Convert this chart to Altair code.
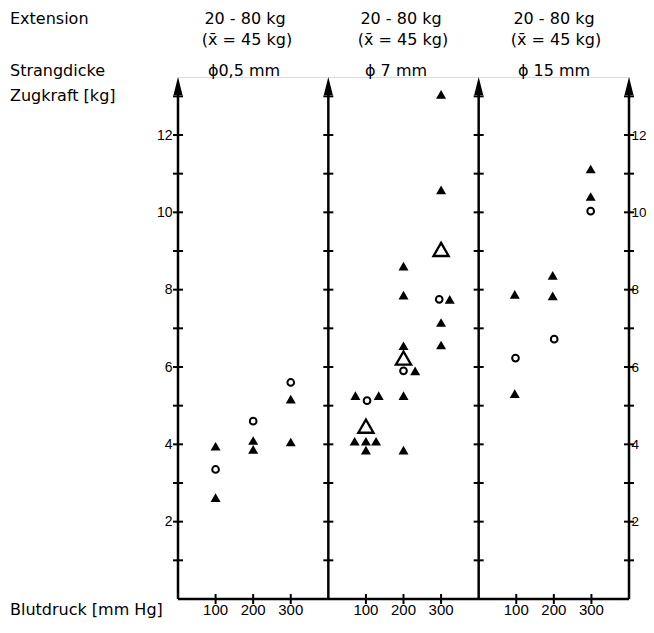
import altair as alt
import pandas as pd

# ---------------- data ----------------
# panel: 0 = ϕ0,5 mm, 1 = ϕ 7 mm, 2 = ϕ 15 mm
# art: "E" = single value (filled triangle), "K" = circle, "M" = mean (open triangle)
panel = [0, 0, 0, 0, 0, 0, 0, 0, 0,
         1, 1, 1, 1, 1, 1, 1, 1,
         1, 1, 1, 1, 1, 1, 1, 1,
         1, 1, 1, 1, 1, 1, 1,
         2, 2, 2, 2, 2, 2, 2, 2, 2]
blutdruck = [100, 100, 100, 200, 200, 200, 300, 300, 300,
             100, 100, 100, 100, 100, 100, 100, 100,
             200, 200, 200, 200, 200, 200, 200, 200,
             300, 300, 300, 300, 300, 300, 300,
             100, 100, 100, 200, 200, 200, 300, 300, 300]
# small sideways displacement used in the original to avoid overlapping symbols (mmHg units)
versatz = [0, 0, 0, 0, 0, 0, 0, 0, 0,
           -28, 3, 34, 0, -30, 0, 27, 0,
           0, 0, 0, 0, 0, 31, 0, 0,
           0, 0, 0, -5, 23, 0, 0,
           -4, -2, -4, -3, -3, 1, -2, -2, -2]
zugkraft = [3.95, 3.35, 2.62, 4.60, 4.10, 3.87, 5.60, 5.17, 4.06,
            5.26, 5.13, 5.26, 4.47, 4.08, 4.08, 4.08, 3.85,
            8.61, 7.86, 6.55, 6.23, 5.90, 5.90, 5.26, 3.85,
            13.05, 10.58, 9.04, 7.75, 7.75, 7.15, 6.57,
            7.88, 6.23, 5.31, 8.37, 7.84, 6.72, 11.12, 10.41, 10.03]
art = ["E", "K", "E", "K", "E", "E", "K", "E", "E",
       "E", "K", "E", "M", "E", "E", "E", "E",
       "E", "E", "E", "M", "K", "E", "E", "E",
       "E", "E", "M", "K", "E", "E", "E",
       "E", "K", "E", "E", "E", "K", "E", "E", "K"]

blutdruck_ticks = [100, 200, 300]
zugkraft_ticks = [1, 2, 3, 4, 5, 6, 7, 8, 9, 10, 11, 12, 13]
zugkraft_labels = [2, 4, 6, 8, 10, 12]
panel_breite = 400          # each panel spans 0..400 mmHg
n_panels = 3
y_max = 13.5

extension_texte = ["20 - 80 kg", "20 - 80 kg", "20 - 80 kg"]
mittel_texte = ["(x\u0304 = 45 kg)", "(x\u0304 = 45 kg)", "(x\u0304 = 45 kg)"]
strang_texte = ["\u03d50,5 mm", "\u03d5 7 mm", "\u03d5 15 mm"]

# ---------------- tables ----------------
df = pd.DataFrame({"panel": panel, "bp": blutdruck, "dx": versatz,
                   "kraft": zugkraft, "art": art})
df["x"] = df["panel"] * panel_breite + df["bp"] + df["dx"]

achsen_x = [i * panel_breite for i in range(n_panels + 1)]
achsen = pd.DataFrame({"x": achsen_x, "y0": 0.0, "ytop": y_max, "yline": y_max - 0.35})
ytick_df = pd.DataFrame([{"x": ax, "y": v} for ax in achsen_x for v in zugkraft_ticks])
xtick_vals = [p * panel_breite + t for p in range(n_panels) for t in blutdruck_ticks]
xtick_df = pd.DataFrame({"x": xtick_vals, "y": 0.0,
                         "lbl": [str(t) for p in range(n_panels) for t in blutdruck_ticks]})
base_df = pd.DataFrame({"x": [0], "x2": [n_panels * panel_breite], "y": [0.0]})

W, H = 451, 522
xs = alt.Scale(domain=[0, n_panels * panel_breite], nice=False, zero=False)
ys = alt.Scale(domain=[0, y_max], nice=False, zero=False)
FONT = "DejaVu Sans"
NUMFONT = "Liberation Sans"

# vertical axes (lines)
rules = alt.Chart(achsen).mark_rule(color="black", strokeWidth=2.5).encode(
    x=alt.X("x:Q", scale=xs, axis=None),
    y=alt.Y("y0:Q", scale=ys, axis=None),
    y2="yline:Q",
)
# baseline
base = alt.Chart(base_df).mark_rule(color="black", strokeWidth=2.5).encode(
    x=alt.X("x:Q", scale=xs, axis=None),
    x2="x2:Q",
    y=alt.Y("y:Q", scale=ys, axis=None),
)
# arrow heads (with the right-hand value axis)
arrows = alt.Chart(achsen).mark_point(
    shape="M0,0L0.25,1L-0.25,1Z", size=1296, filled=True, color="black",
    opacity=1, strokeWidth=0,
).encode(
    x=alt.X("x:Q", scale=xs, axis=None),
    y=alt.Y("ytop:Q", scale=ys, axis=alt.Axis(
        orient="right", values=zugkraft_labels, domain=False, ticks=False,
        grid=False, title=None, labelFont=NUMFONT, labelFontSize=13.5,
        labelColor="black", labelPadding=2)),
)
# crossing ticks on y axes
yticks = alt.Chart(ytick_df).mark_tick(
    orient="horizontal", size=10, thickness=2, color="black", opacity=1
).encode(
    x=alt.X("x:Q", scale=xs, axis=None),
    y=alt.Y("y:Q", scale=ys, axis=None),
)
# crossing ticks on x axis
xticks = alt.Chart(xtick_df).mark_tick(
    orient="vertical", size=10, thickness=2, color="black", opacity=1
).encode(
    x=alt.X("x:Q", scale=xs, axis=None),
    y=alt.Y("y:Q", scale=ys, axis=None),
)
# x tick labels (100 / 200 / 300 in each panel)
xlabels = alt.Chart(xtick_df).mark_text(
    font=NUMFONT, fontSize=15, color="black", baseline="middle", align="center", dy=11
).encode(
    x=alt.X("x:Q", scale=xs, axis=None),
    y=alt.Y("y:Q", scale=ys, axis=None),
    text="lbl:N",
)

y_axis = alt.Axis(orient="left", values=zugkraft_labels, domain=False,
                  ticks=False, grid=False, title=None, labelFont=NUMFONT,
                  labelFontSize=14, labelColor="black", labelPadding=6)

einzel = alt.Chart(df).transform_filter(alt.datum.art == "E").mark_point(
    shape="triangle-up", filled=True, size=100, color="black", opacity=1
).encode(
    x=alt.X("x:Q", scale=xs, axis=None),
    y=alt.Y("kraft:Q", scale=ys, axis=y_axis),
)
kreis = alt.Chart(df).transform_filter(alt.datum.art == "K").mark_point(
    shape="circle", filled=False, size=45, strokeWidth=2, color="black", opacity=1
).encode(
    x=alt.X("x:Q", scale=xs, axis=None),
    y=alt.Y("kraft:Q", scale=ys, axis=None),
)
mittel = alt.Chart(df).transform_filter(alt.datum.art == "M").mark_point(
    shape="triangle-up", filled=True, fill="white", stroke="black", size=230,
    strokeWidth=2.3, opacity=1
).encode(
    x=alt.X("x:Q", scale=xs, axis=None),
    y=alt.Y("kraft:Q", scale=ys, axis=None),
)


def label(text, px, py, align="left", size=16):
    return alt.Chart(pd.DataFrame({"t": [text]})).mark_text(
        font=FONT, fontSize=size, color="black", align=align, baseline="middle"
    ).encode(x=alt.value(px), y=alt.value(py), text="t:N")


left = -168
texts = [
    label("Extension", left, -58),
    label("Strangdicke", left, -6),
    label("Zugkraft [kg]", left, 19),
    label("Blutdruck [mm Hg]", left, H + 11),
]
hdr_x = [67, 223, 376]
strang_x = [66, 218, 376]
for i in range(n_panels):
    texts.append(label(extension_texte[i], hdr_x[i], -58, "center"))
    texts.append(label(mittel_texte[i], hdr_x[i] + 2, -37, "center"))
    texts.append(label(strang_texte[i], strang_x[i], -6, "center"))

chart = alt.layer(
    rules, base, yticks, xticks, xlabels, arrows, kreis, mittel, einzel, *texts
).resolve_axis(y="independent").properties(
    width=W, height=H,
    autosize=alt.AutoSizeParams(type="none"),
    padding={"left": 170, "top": 69, "right": 17, "bottom": 21},
).configure_view(stroke=None).configure(background="white")

chart.save("out.html", embed_options={"renderer": "svg", "actions": False})
